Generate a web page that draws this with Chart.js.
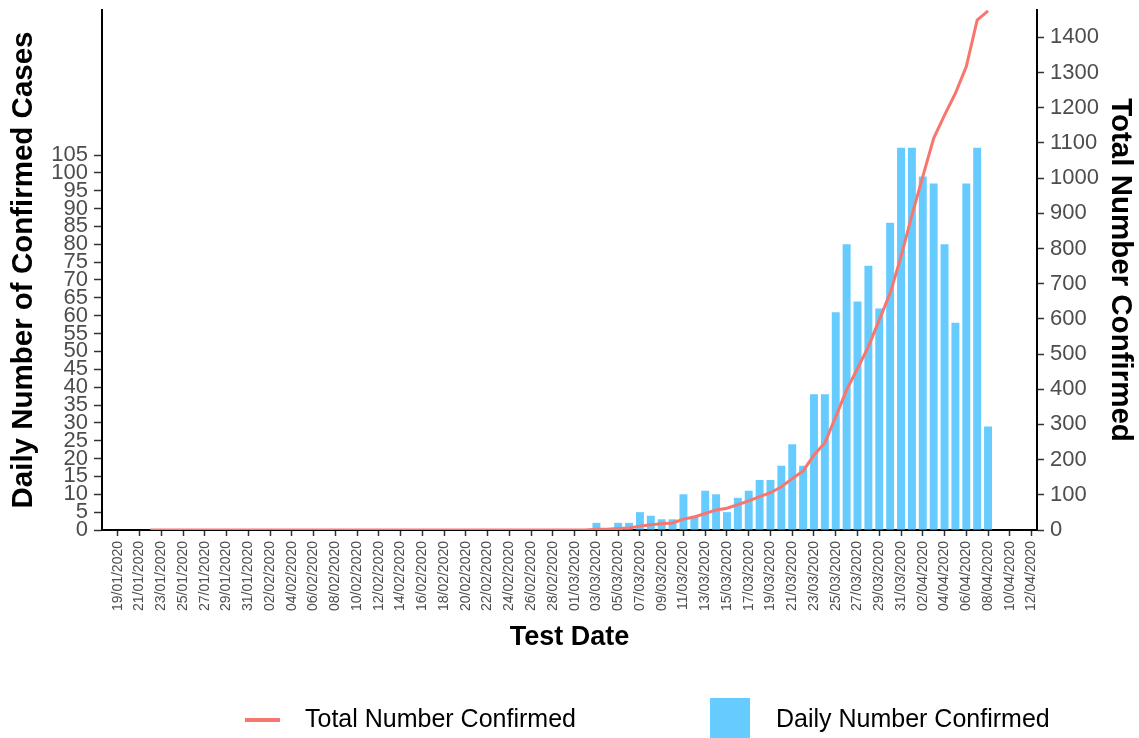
<!DOCTYPE html>
<html>
<head>
<meta charset="utf-8">
<script src="https://cdn.jsdelivr.net/npm/chart.js@4/dist/chart.umd.min.js"></script>
<style>
  html, body { margin: 0; padding: 0; background: #fff; }
</style>
</head>
<body>
<canvas id="covidChart" width="1139" height="738"></canvas>
<script>
// daily confirmed cases (bars, left axis)
const dailyDates = ['03/03/2020', '04/03/2020', '05/03/2020', '06/03/2020', '07/03/2020', '08/03/2020',
  '09/03/2020', '10/03/2020', '11/03/2020', '12/03/2020', '13/03/2020', '14/03/2020', '15/03/2020',
  '16/03/2020', '17/03/2020', '18/03/2020', '19/03/2020', '20/03/2020', '21/03/2020', '22/03/2020',
  '23/03/2020', '24/03/2020', '25/03/2020', '26/03/2020', '27/03/2020', '28/03/2020', '29/03/2020',
  '30/03/2020', '31/03/2020', '01/04/2020', '02/04/2020', '03/04/2020', '04/04/2020', '05/04/2020',
  '06/04/2020', '07/04/2020', '08/04/2020'];
const dailyCases = [2, 0, 2, 2, 5, 4, 3, 3, 10, 4, 11, 10, 5, 9, 11, 14, 14, 18, 24, 18,
  38, 38, 61, 80, 64, 74, 62, 86, 107, 107, 99, 97, 80, 58, 97, 107, 29];

// running total (line, right axis)
const totalDates = ['22/01/2020', '02/03/2020', '03/03/2020', '04/03/2020', '05/03/2020', '06/03/2020',
  '07/03/2020', '08/03/2020', '09/03/2020', '10/03/2020', '11/03/2020', '12/03/2020', '13/03/2020',
  '14/03/2020', '15/03/2020', '16/03/2020', '17/03/2020', '18/03/2020', '19/03/2020', '20/03/2020',
  '21/03/2020', '22/03/2020', '23/03/2020', '24/03/2020', '25/03/2020', '26/03/2020', '27/03/2020',
  '28/03/2020', '29/03/2020', '30/03/2020', '31/03/2020', '01/04/2020', '02/04/2020', '03/04/2020',
  '04/04/2020', '05/04/2020', '06/04/2020', '07/04/2020', '08/04/2020'];
const totalCases = [0, 0, 2, 2, 4, 6, 11, 15, 18, 20, 31, 37, 47, 57, 62, 72, 83, 95, 106, 123,
  146, 168, 213, 248, 322, 398, 459, 521, 597, 673, 777, 895, 1004, 1113, 1179, 1241, 1317, 1449, 1475];

const xTickLabels = ['19/01/2020', '21/01/2020', '23/01/2020', '25/01/2020', '27/01/2020', '29/01/2020',
  '31/01/2020', '02/02/2020', '04/02/2020', '06/02/2020', '08/02/2020', '10/02/2020', '12/02/2020',
  '14/02/2020', '16/02/2020', '18/02/2020', '20/02/2020', '22/02/2020', '24/02/2020', '26/02/2020',
  '28/02/2020', '01/03/2020', '03/03/2020', '05/03/2020', '07/03/2020', '09/03/2020', '11/03/2020',
  '13/03/2020', '15/03/2020', '17/03/2020', '19/03/2020', '21/03/2020', '23/03/2020', '25/03/2020',
  '27/03/2020', '29/03/2020', '31/03/2020', '02/04/2020', '04/04/2020', '06/04/2020', '08/04/2020',
  '10/04/2020', '12/04/2020'];
const leftTicks = [0, 5, 10, 15, 20, 25, 30, 35, 40, 45, 50, 55, 60, 65, 70, 75, 80, 85, 90, 95, 100, 105];
const rightTicks = [0, 100, 200, 300, 400, 500, 600, 700, 800, 900, 1000, 1100, 1200, 1300, 1400];

// days since the first tick date
function dayIndex(label) {
  const [d, m, y] = label.split('/').map(Number);
  return Math.round((Date.UTC(y, m - 1, d) - Date.UTC(2020, 0, 19)) / 86400000);
}

const FONT = "'Liberation Sans', Arial, sans-serif";
const tickGrey = '#4D4D4D';

const bottomLegend = {
  id: 'bottomLegend',
  afterDraw(chart, args, opts) {
    const ctx = chart.ctx;
    const total = chart.data.datasets[0];
    const daily = chart.data.datasets[1];
    ctx.save();
    ctx.font = '25px ' + FONT;
    ctx.textBaseline = 'middle';
    ctx.strokeStyle = total.borderColor;
    ctx.lineWidth = 4;
    ctx.beginPath();
    ctx.moveTo(opts.lineX, opts.y);
    ctx.lineTo(opts.lineX + 35, opts.y);
    ctx.stroke();
    ctx.fillStyle = '#000';
    ctx.fillText(total.label, opts.lineX + 60, opts.y);
    ctx.fillStyle = daily.backgroundColor;
    ctx.fillRect(opts.boxX, opts.y - 22, 40, 44);
    ctx.fillStyle = '#000';
    ctx.fillText(daily.label, opts.boxX + 66, opts.y);
    ctx.restore();
  }
};

new Chart(document.getElementById('covidChart'), {
  type: 'bar',
  data: {
    datasets: [
      {
        type: 'line',
        label: 'Total Number Confirmed',
        data: totalDates.map((d, i) => ({ x: dayIndex(d), y: totalCases[i] })),
        yAxisID: 'yTotal',
        borderColor: '#F8766D',
        borderWidth: 3,
        pointRadius: 0,
        tension: 0,
        order: 0
      },
      {
        type: 'bar',
        label: 'Daily Number Confirmed',
        data: dailyDates.map((d, i) => ({ x: dayIndex(d), y: dailyCases[i] })),
        yAxisID: 'yDaily',
        backgroundColor: '#66CCFF',
        barPercentage: 0.73,
        categoryPercentage: 1,
        order: 1
      }
    ]
  },
  options: {
    responsive: false,
    animation: false,
    layout: { padding: { top: 10, bottom: 78, left: 0, right: 0 } },
    plugins: {
      legend: { display: false },
      tooltip: { enabled: false },
      bottomLegend: { lineX: 245, boxX: 710, y: 720 }
    },
    scales: {
      x: {
        type: 'linear',
        min: -1.45,
        max: 84.5,
        offset: false,
        afterBuildTicks: s => { s.ticks = xTickLabels.map(l => ({ value: dayIndex(l) })); },
        afterFit: s => { s.height = 130; s.paddingLeft = 0; s.paddingRight = 0; },
        grid: { offset: false, drawOnChartArea: false, tickLength: 6, tickColor: '#333', tickWidth: 1.5 },
        border: { color: '#000', width: 2 },
        ticks: {
          autoSkip: false, minRotation: 90, maxRotation: 90, padding: 5,
          color: tickGrey, font: { family: FONT, size: 14 },
          callback: (v, i) => xTickLabels[i]
        },
        title: {
          display: true, text: 'Test Date', color: '#000',
          font: { family: FONT, size: 27, weight: 'bold' },
          padding: { top: 0, bottom: 6 }
        }
      },
      yDaily: {
        type: 'linear',
        position: 'left',
        min: 0,
        max: 145.6,
        afterBuildTicks: s => { s.ticks = leftTicks.map(v => ({ value: v })); },
        afterFit: s => { s.width = 102; s.paddingTop = 0; s.paddingBottom = 0; },
        grid: { drawOnChartArea: false, tickLength: 8, tickColor: '#333', tickWidth: 1.5 },
        border: { color: '#000', width: 2 },
        ticks: { autoSkip: false, padding: 6, color: tickGrey, font: { family: FONT, size: 22 },
          callback: v => String(v) },
        title: {
          display: true, text: 'Daily Number of Confirmed Cases', color: '#000',
          font: { family: FONT, size: 29.5, weight: 'bold' },
          padding: { top: 6, bottom: 0 }
        }
      },
      yTotal: {
        type: 'linear',
        position: 'right',
        min: 0,
        max: 1477.6,
        afterBuildTicks: s => { s.ticks = rightTicks.map(v => ({ value: v })); },
        afterFit: s => { s.width = 102; s.paddingTop = 0; s.paddingBottom = 0; },
        grid: { drawOnChartArea: false, tickLength: 7, tickColor: '#333', tickWidth: 1.5 },
        border: { color: '#000', width: 2 },
        ticks: { autoSkip: false, padding: 6, color: tickGrey, font: { family: FONT, size: 22 },
          callback: v => String(v) },
        title: {
          display: true, text: 'Total Number Confirmed', color: '#000',
          font: { family: FONT, size: 29.5, weight: 'bold' },
          padding: { top: 1, bottom: 0 }
        }
      }
    }
  },
  plugins: [bottomLegend]
});
</script>
</body>
</html>
